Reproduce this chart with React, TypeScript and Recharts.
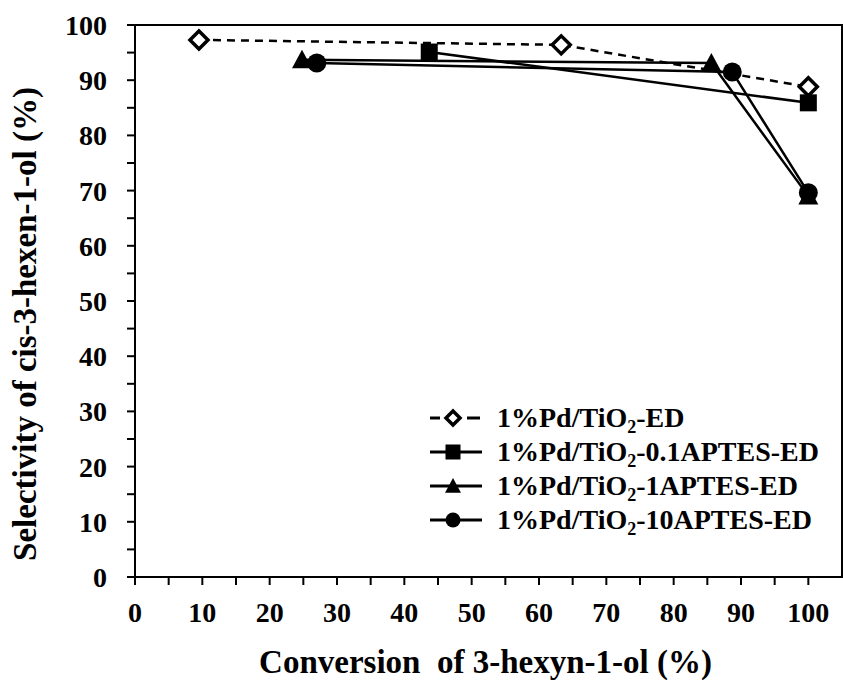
import React from 'react';
import { LineChart, Line, XAxis, YAxis, Legend, Label } from 'recharts';

// Conversion (%) / selectivity (%)
const edConversion = [9.5, 63.3, 100];
const edSelectivity = [97.3, 96.4, 88.8];
const aptes01Conversion = [43.7, 100];
const aptes01Selectivity = [95.1, 85.9];
const aptes1Conversion = [24.8, 85.6, 100];
const aptes1Selectivity = [93.7, 93.1, 69.0];
const aptes10Conversion = [27.0, 88.7, 100];
const aptes10Selectivity = [93.1, 91.5, 69.6];

const xTicks = [0, 5, 10, 15, 20, 25, 30, 35, 40, 45, 50, 55, 60, 65, 70, 75, 80, 85, 90, 95, 100];
const yTicks = [0, 5, 10, 15, 20, 25, 30, 35, 40, 45, 50, 55, 60, 65, 70, 75, 80, 85, 90, 95, 100];
const xMax = 105;
const yMax = 100;
const seriesSuffixes = ['-ED', '-0.1APTES-ED', '-1APTES-ED', '-10APTES-ED'];
const xTitle = 'Conversion\u00a0\u00a0of 3-hexyn-1-ol (%)';
const yTitle = 'Selectivity of cis-3-hexen-1-ol (%)';

const W = 843;
const H = 682;
const MARGIN = { top: 25, right: 1, bottom: 45, left: 55 };
const X_AXIS_H = 60;
const Y_AXIS_W = 80;

const zip = (xs: number[], ys: number[]) => xs.map((x, i) => ({ x, y: ys[i] }));
const edData = zip(edConversion, edSelectivity);
const aptes01Data = zip(aptes01Conversion, aptes01Selectivity);
const aptes1Data = zip(aptes1Conversion, aptes1Selectivity);
const aptes10Data = zip(aptes10Conversion, aptes10Selectivity);

const TXT: React.CSSProperties = { fontFamily: "'Liberation Serif', 'Times New Roman', serif", fontWeight: 'bold' };

const Diamond = ({ cx, cy, s = 9 }: any) => (
  <polygon points={`${cx},${cy - s} ${cx + s},${cy} ${cx},${cy + s} ${cx - s},${cy}`} fill="#fff" stroke="#000" strokeWidth={3.5} />
);
const Square = ({ cx, cy, s = 8.5 }: any) => (
  <rect x={cx - s} y={cy - s} width={2 * s} height={2 * s} fill="#000" />
);
const Triangle = ({ cx, cy, s = 10 }: any) => (
  <polygon points={`${cx},${cy - s} ${cx + s},${cy + s * 0.85} ${cx - s},${cy + s * 0.85}`} fill="#000" />
);
const Circle = ({ cx, cy, s = 9.5 }: any) => <circle cx={cx} cy={cy} r={s} fill="#000" />;

const XTick = ({ x, y, payload }: any) =>
  payload.value % 10 === 0 ? (
    <text x={x} y={y + 35} textAnchor="middle" style={{ ...TXT, fontSize: 28 }} fill="#000">
      {payload.value}
    </text>
  ) : null;

const YTick = ({ x, y, payload }: any) =>
  payload.value % 10 === 0 ? (
    <text x={x - 18} y={y + 10} textAnchor="end" style={{ ...TXT, fontSize: 28 }} fill="#000">
      {payload.value}
    </text>
  ) : null;

const markers = [Diamond, Square, Triangle, Circle];

const LegendContent = () => (
  <svg width={420} height={140} style={{ display: 'block' }}>
    {seriesSuffixes.map((suf, i) => {
      const cy = 18 + i * 34;
      const M = markers[i];
      return (
        <g key={suf}>
          {i === 0 ? (
            <>
              <line x1={5} x2={15} y1={cy} y2={cy} stroke="#000" strokeWidth={3} />
              <line x1={42} x2={55} y1={cy} y2={cy} stroke="#000" strokeWidth={3} />
            </>
          ) : (
            <line x1={5} x2={57} y1={cy} y2={cy} stroke="#000" strokeWidth={3} />
          )}
          <M cx={28} cy={cy} s={i === 0 ? 7 : i === 2 ? 8 : 7.5} />
          <text x={72} y={cy + 9} style={{ ...TXT, fontSize: 28 }} fill="#000">
            1%Pd/TiO
            <tspan style={{ fontSize: 18 }} dy={6}>2</tspan>
            <tspan dy={-6}>{suf}</tspan>
          </text>
        </g>
      );
    })}
  </svg>
);

const XTitleAndFrame = (props: any) => {
  const vb = props.viewBox;
  const left = vb.x;
  const right = vb.x + vb.width;
  const bottom = vb.y;
  const top = MARGIN.top;
  return (
    <g>
      <path d={`M${left},${top}H${right}V${bottom}`} fill="none" stroke="#000" strokeWidth={2} />
      <text x={left + vb.width / 2 - 3} y={bottom + 96} textAnchor="middle" style={{ ...TXT, fontSize: 33 }} fill="#000">
        {xTitle}
      </text>
    </g>
  );
};

// plot-area frame (top and right sides), derived from the chart layout constants
const plotLeft = MARGIN.left + Y_AXIS_W;
const plotTop = MARGIN.top;
const plotW = W - plotLeft - MARGIN.right;
const plotH = H - MARGIN.top - MARGIN.bottom - X_AXIS_H;

export default function App() {
  return (
    <div style={{ position: 'absolute', left: 0, top: 0, width: W, height: H, background: '#fff' }}>
      <LineChart width={W} height={H} margin={MARGIN}>
        <XAxis
          type="number"
          dataKey="x"
          domain={[0, xMax]}
          ticks={xTicks}
          interval={0}
          tick={<XTick />}
          tickSize={8}
          height={X_AXIS_H}
          axisLine={{ stroke: '#000', strokeWidth: 2 }}
          tickLine={{ stroke: '#000', strokeWidth: 2 }}
          allowDataOverflow
        >
          <Label content={XTitleAndFrame} />
        </XAxis>
        <YAxis
          type="number"
          dataKey="y"
          domain={[0, yMax]}
          ticks={yTicks}
          interval={0}
          tick={<YTick />}
          tickSize={8}
          width={Y_AXIS_W}
          axisLine={{ stroke: '#000', strokeWidth: 2 }}
          tickLine={{ stroke: '#000', strokeWidth: 2 }}
        >
          <Label
            content={(props: any) => {
              const vb = props.viewBox;
              const cx = vb.x - 30;
              const cy = vb.y + vb.height / 2 + 23;
              return (
                <text x={cx} y={cy} transform={`rotate(-90 ${cx} ${cy})`} textAnchor="middle" dominantBaseline="central" style={{ ...TXT, fontSize: 33 }} fill="#000">
                  {yTitle}
                </text>
              );
            }}
          />
        </YAxis>
        <Legend
          layout="vertical"
          align="center"
          verticalAlign="middle"
          content={<LegendContent />}
          wrapperStyle={{ position: 'absolute', left: 425, top: 400, width: 420, height: 140 }}
        />
        <Line data={edData} dataKey="y" name="ED" stroke="#000" strokeWidth={2.5} strokeDasharray="8 6" isAnimationActive={false} dot={(p: any) => <Diamond key={p.index} cx={p.cx} cy={p.cy} />} />
        <Line data={aptes01Data} dataKey="y" name="0.1APTES" stroke="#000" strokeWidth={2.5} isAnimationActive={false} dot={(p: any) => <Square key={p.index} cx={p.cx} cy={p.cy} />} />
        <Line data={aptes1Data} dataKey="y" name="1APTES" stroke="#000" strokeWidth={2.5} isAnimationActive={false} dot={(p: any) => <Triangle key={p.index} cx={p.cx} cy={p.cy} />} />
        <Line data={aptes10Data} dataKey="y" name="10APTES" stroke="#000" strokeWidth={2.5} isAnimationActive={false} dot={(p: any) => <Circle key={p.index} cx={p.cx} cy={p.cy} />} />
      </LineChart>
      <div
        style={{
          position: 'absolute',
          left: plotLeft,
          top: plotTop - 1,
          width: plotW - 1,
          height: plotH,
          borderTop: '2px solid #000',
          borderRight: '2px solid #000',
          pointerEvents: 'none',
        }}
      />
    </div>
  );
}
